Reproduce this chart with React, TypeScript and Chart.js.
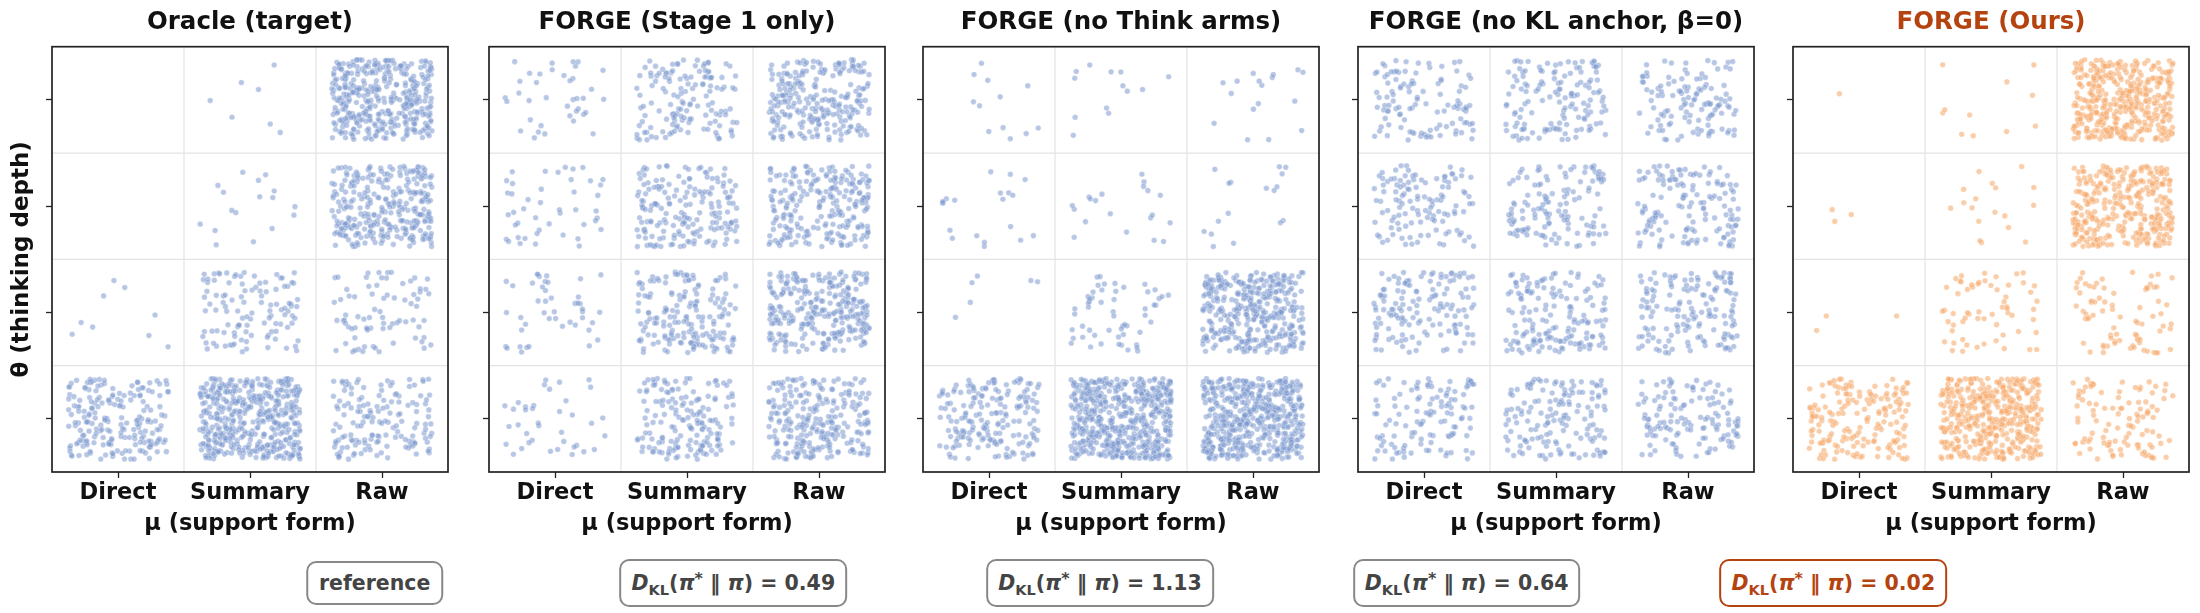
import React, { useEffect, useRef } from 'react';
import { Chart, registerables } from 'chart.js';

Chart.register(...registerables);

// ---- data ----
const supportForms = ['Direct', 'Summary', 'Raw'];
const depthTicks = [0, 1, 2, 3];
const panelTitles = [
  'Oracle (target)',
  'FORGE (Stage 1 only)',
  'FORGE (no Think arms)',
  'FORGE (no KL anchor, β=0)',
  'FORGE (Ours)',
];
const klValues = ['reference', '0.49', '1.13', '0.64', '0.02'];

// sample counts per cell: rows = θ (0..3, bottom to top), cols = μ (Direct, Summary, Raw)
const oracleCounts = [
  [200, 450, 150],
  [9, 110, 78],
  [0, 17, 300],
  [0, 7, 390],
];
const stage1Counts = [
  [38, 165, 255],
  [45, 175, 285],
  [45, 180, 235],
  [38, 140, 250],
];
const noThinkCounts = [
  [185, 540, 520],
  [6, 55, 370],
  [20, 20, 17],
  [12, 13, 17],
];
const noKLCounts = [
  [120, 150, 130],
  [140, 160, 150],
  [120, 130, 140],
  [110, 140, 120],
];
const oursCounts = [
  [175, 420, 105],
  [3, 62, 78],
  [3, 18, 330],
  [1, 11, 400],
];
const panelCounts = [oracleCounts, stage1Counts, noThinkCounts, noKLCounts, oursCounts];

// ---- styling ----
const FONT = "'DejaVu Sans', 'Liberation Sans', sans-serif";
const ORANGE = '#b5430f';
const BLUE_PT = 'rgba(122, 152, 206, 0.55)';
const ORANGE_PT = 'rgba(246, 168, 106, 0.58)';
const plotLefts = [52, 489, 923, 1358, 1793];
const PLOT_W = 396;
const AXIS_W = 52;
const CANVAS_W = AXIS_W + PLOT_W + 10;
const CANVAS_H = 613;
const JITTER = 0.38;

// deterministic jitter inside a cell (strip-plot style spread)
function hash01(seed: number): number {
  let t = (seed + 0x6d2b79f5) | 0;
  t = Math.imul(t ^ (t >>> 15), t | 1);
  t ^= t + Math.imul(t ^ (t >>> 7), t | 61);
  return ((t ^ (t >>> 14)) >>> 0) / 4294967296;
}

function buildPoints(counts: number[][], panel: number) {
  const pts: { x: number; y: number }[] = [];
  counts.forEach((row, r) => {
    row.forEach((n, c) => {
      for (let k = 0; k < n; k++) {
        const base = panel * 1000003 + r * 70001 + c * 9973 + k * 7;
        const u = hash01(base * 2 + 1);
        const v = hash01(base * 2 + 2);
        pts.push({ x: c + (u - 0.5) * 2 * JITTER, y: r + (v - 0.5) * 2 * JITTER });
      }
    });
  });
  return pts;
}

const cellGridPlugin = {
  id: 'cellGrid',
  beforeDatasetsDraw(chart: any) {
    const { ctx, chartArea, scales } = chart;
    ctx.save();
    ctx.strokeStyle = '#e3e3e3';
    ctx.lineWidth = 1.2;
    for (let k = 0; k < supportForms.length - 1; k++) {
      const px = scales.x.getPixelForValue(k + 0.5);
      ctx.beginPath();
      ctx.moveTo(px, chartArea.top);
      ctx.lineTo(px, chartArea.bottom);
      ctx.stroke();
    }
    for (let k = 0; k < depthTicks.length - 1; k++) {
      const py = scales.y.getPixelForValue(k + 0.5);
      ctx.beginPath();
      ctx.moveTo(chartArea.left, py);
      ctx.lineTo(chartArea.right, py);
      ctx.stroke();
    }
    ctx.restore();
  },
  afterDraw(chart: any) {
    const { ctx, chartArea } = chart;
    ctx.save();
    ctx.strokeStyle = '#222';
    ctx.lineWidth = 1.7;
    ctx.strokeRect(chartArea.left, chartArea.top, chartArea.right - chartArea.left, chartArea.bottom - chartArea.top);
    ctx.restore();
  },
};

function Panel({ index }: { index: number }) {
  const ref = useRef<HTMLCanvasElement | null>(null);
  useEffect(() => {
    if (!ref.current) return;
    const isOurs = index === 4;
    const chart = new Chart(ref.current, {
      type: 'scatter',
      data: {
        datasets: [
          {
            data: buildPoints(panelCounts[index], index),
            backgroundColor: isOurs ? ORANGE_PT : BLUE_PT,
            borderColor: 'rgba(255,255,255,0.55)',
            borderWidth: 0.5,
            pointRadius: 2.8,
            pointHoverRadius: 2.8,
          },
        ],
      },
      options: {
        animation: false,
        responsive: false,
        events: [],
        layout: { padding: { left: 0, right: 10, top: 0, bottom: 0 } },
        plugins: {
          legend: { display: false },
          tooltip: { enabled: false },
          title: {
            display: true,
            fullSize: false,
            text: panelTitles[index],
            color: isOurs ? ORANGE : '#111',
            font: { family: FONT, size: 24.5, weight: 'bold' },
            padding: { top: 8, bottom: 9.3 },
          },
        },
        scales: {
          x: {
            type: 'linear',
            min: -0.5,
            max: 2.5,
            afterBuildTicks: (s: any) => {
              s.ticks = supportForms.map((_, i) => ({ value: i }));
            },
            afterFit: (s: any) => {
              s.height = CANVAS_H - 472;
            },
            ticks: {
              callback: (v: any) => supportForms[v] ?? '',
              font: { family: FONT, size: 22.5, weight: 'bold' },
              color: '#111',
              padding: 2,
              autoSkip: false,
              maxRotation: 0,
            },
            grid: { display: true, drawOnChartArea: false, drawTicks: true, tickLength: 6, tickColor: '#222', tickWidth: 1.3 },
            border: { display: false },
            title: {
              display: true,
              text: 'μ (support form)',
              color: '#111',
              font: { family: FONT, size: 22.5, weight: 'bold' },
              padding: { top: 0, bottom: 75 },
            },
          },
          y: {
            type: 'linear',
            min: -0.5,
            max: 3.5,
            afterBuildTicks: (s: any) => {
              s.ticks = depthTicks.map((v) => ({ value: v }));
            },
            afterFit: (s: any) => {
              s.width = AXIS_W;
            },
            ticks: { display: false },
            grid: { display: true, drawOnChartArea: false, drawTicks: true, tickLength: 6, tickColor: '#222', tickWidth: 1.3 },
            border: { display: false },
            title: {
              display: index === 0,
              text: 'θ (thinking depth)',
              color: '#111',
              font: { family: FONT, size: 23, weight: 'bold' },
              padding: { top: 8, bottom: 0 },
            },
          },
        },
      } as any,
      plugins: [cellGridPlugin],
    });
    return () => chart.destroy();
  }, [index]);
  return (
    <canvas
      ref={ref}
      width={CANVAS_W}
      height={CANVAS_H}
      style={{ position: 'absolute', left: plotLefts[index] - AXIS_W, top: 0, width: CANVAS_W, height: CANVAS_H }}
    />
  );
}

function KLBox({ index }: { index: number }) {
  const isOurs = index === 4;
  const color = isOurs ? ORANGE : '#444';
  const cx = (2200 * (index + 1)) / 6 + (index === 0 ? 8 : 0);
  const value = klValues[index];
  return (
    <div
      style={{
        position: 'absolute',
        left: cx,
        top: 583,
        transform: 'translate(-50%, -50%)',
        border: `2px solid ${isOurs ? ORANGE : '#888'}`,
        borderRadius: 10,
        background: '#fff',
        padding: index === 0 ? '8px 11px' : '10px 10px',
        fontFamily: FONT,
        fontWeight: 'bold',
        fontSize: 20.5,
        lineHeight: '24px',
        color,
        whiteSpace: 'nowrap',
      }}
    >
      {index === 0 ? (
        value
      ) : (
        <span>
          <i>D</i>
          <span style={{ fontSize: 14.5, verticalAlign: -5, lineHeight: 0 }}>KL</span>(<i>π</i>
          <span style={{ fontSize: 16, verticalAlign: 6, lineHeight: 0 }}>*</span> ‖ <i>π</i>) = {value}
        </span>
      )}
    </div>
  );
}

export default function App() {
  return (
    <div style={{ position: 'fixed', left: 0, top: 0, width: 2200, height: 613, background: '#fff', overflow: 'hidden' }}>
      {panelTitles.map((_, i) => (
        <Panel key={i} index={i} />
      ))}
      {klValues.map((_, i) => (
        <KLBox key={'kl' + i} index={i} />
      ))}
    </div>
  );
}
